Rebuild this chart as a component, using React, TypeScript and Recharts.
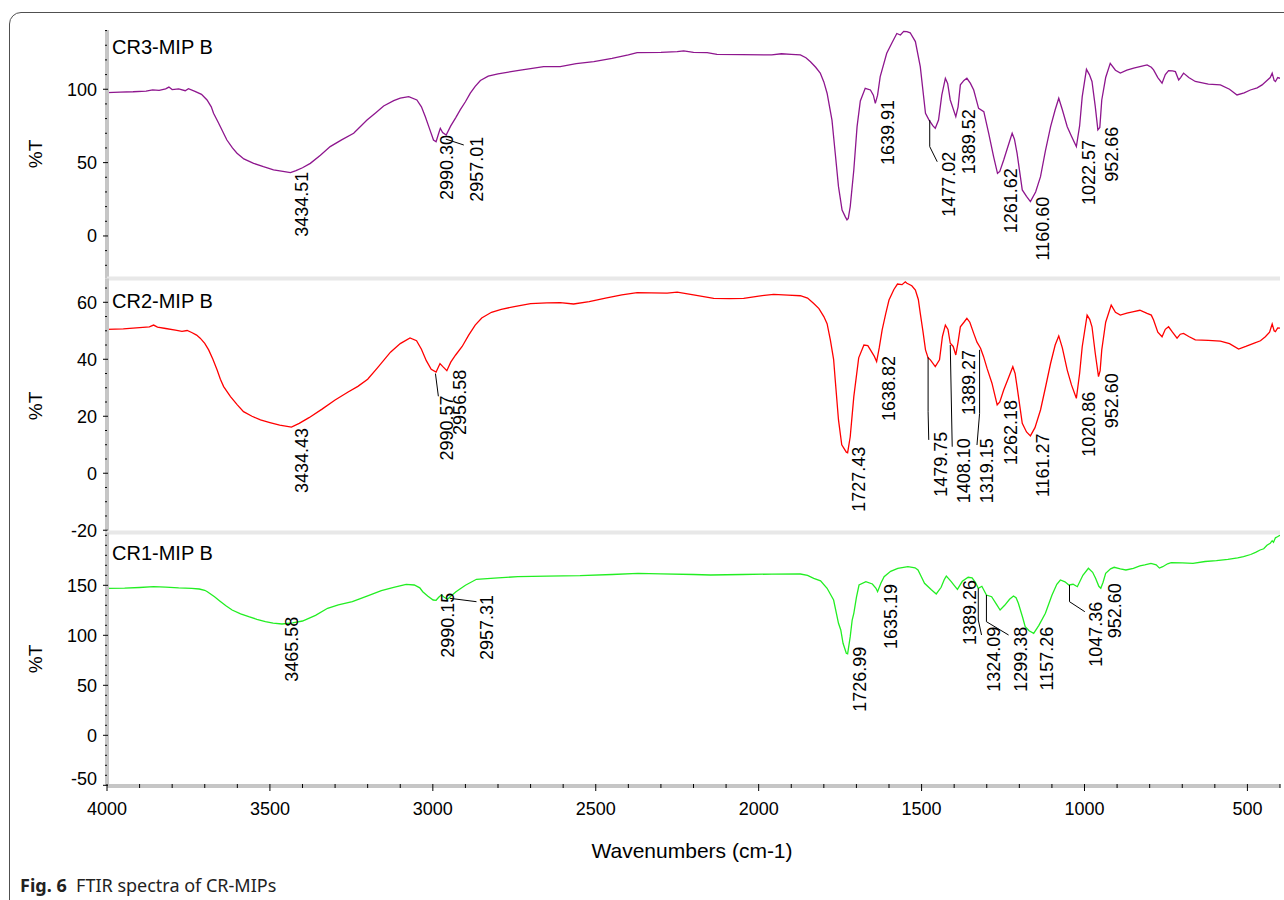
import React from 'react'
import { Line, LineChart, ReferenceDot, ReferenceLine, XAxis, YAxis } from 'recharts'

type Pt = [number, number]
type Peak = { text: string; x: number; y: number }

// [wavenumber, %T]
const cr3: Pt[] = [
  [4000, 97.7], [3960, 98.0], [3920, 98.3], [3880, 98.8], [3860, 99.6], [3840, 99.2], [3820, 100.3],
  [3810, 101.5], [3800, 99.8], [3780, 100.2], [3760, 99.0], [3750, 100.4], [3730, 98.6], [3710, 96.5],
  [3693, 92.7], [3680, 88], [3673, 83.6], [3660, 78], [3652, 74.5], [3640, 69], [3632, 65.4], [3615, 60],
  [3601, 56.4], [3580, 52.5], [3550, 49.5], [3520, 47.2], [3489, 45], [3460, 44], [3437, 43.2], [3420, 44.5],
  [3400, 46.5], [3376, 49.5], [3345, 55], [3315, 60.9], [3280, 65.5], [3243, 70], [3202, 79], [3175, 84],
  [3151, 88.6], [3120, 92.2], [3100, 93.9], [3074, 95], [3049, 92.7], [3035, 88], [3023, 81.3], [3010, 73],
  [2998, 65.4], [2990, 64.2], [2982, 70], [2977, 73.4], [2970, 70.5], [2959, 68.8], [2945, 75], [2930, 80.5],
  [2916, 85.9], [2900, 91.5], [2885, 97.3], [2870, 102], [2854, 106], [2830, 109], [2800, 110.5], [2760, 112],
  [2731, 113], [2700, 114], [2660, 115.4], [2609, 115.4], [2560, 117.5], [2506, 118.8], [2450, 121],
  [2400, 123.5], [2373, 125], [2300, 125.2], [2250, 125.6], [2230, 126.2], [2200, 125.2], [2158, 125],
  [2128, 123.8], [2050, 123.6], [1960, 123.4], [1930, 124.2], [1900, 123.8], [1872, 123.4], [1855, 121.5],
  [1841, 118.8], [1825, 115], [1811, 111], [1800, 105], [1790, 97.3], [1775, 79], [1765, 56.4], [1755, 33.6],
  [1744, 17.7], [1734, 13], [1729, 11], [1725, 12], [1719, 20], [1708, 45], [1698, 74.5], [1688, 92],
  [1673, 100.6], [1657, 99.5], [1648, 96], [1642, 90.4], [1635, 96], [1627, 108.6], [1607, 124.5],
  [1590, 132], [1576, 138], [1565, 137], [1555, 139.5], [1545, 139.3], [1535, 138.5], [1519, 132.5],
  [1504, 115.4], [1488, 83.6], [1477, 79], [1465, 75], [1458, 73.4], [1448, 79], [1438, 96], [1427, 107.5],
  [1420, 104], [1412, 92.7], [1395, 81.3], [1388, 88], [1381, 103], [1370, 106], [1361, 107.5], [1350, 104],
  [1340, 99.5], [1325, 87], [1309, 84.7], [1294, 70], [1279, 54.1], [1267, 42.7], [1260, 44], [1248, 51.8],
  [1235, 61], [1222, 70], [1215, 66], [1207, 56.4], [1191, 31.4], [1178, 27], [1166, 23.4], [1150, 30],
  [1135, 40.4], [1120, 58], [1104, 74.5], [1090, 86], [1079, 93.9], [1068, 86], [1053, 74.5], [1040, 68],
  [1025, 60.9], [1015, 75], [1007, 95], [994, 113.6], [985, 110], [977, 105.3], [967, 88.3], [959, 72.3],
  [953, 74], [947, 92.7], [935, 108], [921, 117.7], [905, 113], [890, 111], [870, 113], [849, 114.4],
  [830, 115.5], [808, 116.6], [795, 115], [788, 113.2], [775, 108], [762, 104.1], [752, 110], [742, 112.7],
  [730, 112.5], [721, 112], [711, 106.3], [705, 108], [696, 111], [680, 108], [660, 105.3], [620, 103.5],
  [583, 103], [555, 100], [532, 96.1], [510, 97.5], [491, 99.5], [470, 101], [455, 103], [440, 106],
  [430, 108], [424, 111], [418, 106], [414, 105.3], [407, 108], [400, 107.5],
]

const cr2: Pt[] = [
  [4000, 50.5], [3950, 50.7], [3900, 51.1], [3870, 51.4], [3857, 52.0], [3845, 51.3], [3820, 50.8],
  [3790, 50.2], [3770, 49.8], [3754, 50.1], [3740, 49.4], [3725, 48.5], [3714, 47.4], [3700, 45.6],
  [3688, 43.3], [3675, 40], [3662, 36.2], [3652, 33], [3642, 30.4], [3621, 26.9], [3600, 24], [3581, 21.6],
  [3555, 20], [3529, 18.7], [3500, 17.8], [3470, 16.9], [3434, 16.2], [3410, 17.5], [3380, 19.5],
  [3340, 22.5], [3300, 25.7], [3260, 28.5], [3230, 30.5], [3200, 33], [3170, 37], [3130, 42.5],
  [3100, 45.5], [3070, 47.5], [3050, 46.5], [3035, 43.5], [3020, 39.5], [3005, 36.5], [2990, 35.5],
  [2978, 38.5], [2970, 37.5], [2957, 36], [2945, 39], [2930, 41.5], [2910, 44.5], [2890, 48.5], [2870, 52],
  [2850, 54.5], [2820, 56.5], [2790, 57.5], [2750, 58.5], [2700, 59.5], [2650, 59.8], [2609, 59.9],
  [2568, 59.4], [2520, 60.2], [2470, 61.5], [2420, 62.6], [2373, 63.4], [2330, 63.3], [2281, 63.2],
  [2250, 63.6], [2200, 62.6], [2138, 61.4], [2090, 61.3], [2046, 61.4], [2000, 62.2], [1954, 62.8],
  [1910, 62.5], [1872, 62.3], [1850, 61.5], [1831, 59.6], [1815, 57.8], [1800, 55], [1790, 52.5],
  [1780, 46.8], [1770, 40], [1765, 32.7], [1755, 18.7], [1745, 10], [1731, 7.4], [1727, 7.2], [1719, 12.8],
  [1708, 26.9], [1693, 40.5], [1677, 45], [1665, 44.8], [1657, 43.3], [1645, 41], [1638, 39.2], [1630, 44],
  [1621, 50.3], [1610, 56], [1600, 60.8], [1585, 64.5], [1574, 66.4], [1560, 66.2], [1550, 67.2],
  [1545, 66.7], [1530, 65.8], [1519, 64.3], [1510, 61], [1504, 56.1], [1496, 50], [1488, 43.3],
  [1480, 40.5], [1473, 39.8], [1458, 37.4], [1445, 39.8], [1436, 48], [1427, 52], [1419, 50.5],
  [1412, 45.6], [1403, 44.5], [1395, 41.5], [1388, 46], [1381, 51.4], [1370, 53], [1361, 54.4], [1352, 53],
  [1340, 49.1], [1330, 46], [1319, 43.9], [1310, 41], [1299, 36.8], [1284, 31.6], [1268, 24], [1260, 25],
  [1248, 29.2], [1235, 33], [1220, 37.4], [1213, 35], [1207, 30.4], [1191, 17.5], [1178, 14.5],
  [1166, 13.1], [1152, 16], [1135, 22.2], [1120, 30], [1104, 38.6], [1090, 45], [1079, 48.2], [1068, 44],
  [1053, 36.2], [1040, 31], [1025, 26.3], [1015, 35], [1007, 44.4], [992, 55.5], [984, 54], [977, 51.4],
  [967, 42.1], [957, 33.9], [952, 36], [947, 43.3], [935, 53], [918, 59], [905, 56.5], [890, 55.5],
  [870, 56.2], [849, 56.7], [830, 57.2], [808, 56.1], [795, 55.5], [788, 53.8], [775, 49.5], [762, 47.9],
  [752, 50.5], [742, 51.4], [730, 49.5], [716, 47.4], [706, 48.8], [696, 49.1], [680, 48], [660, 46.8],
  [620, 46.6], [583, 46.4], [555, 45.5], [527, 43.6], [505, 44.5], [481, 45.6], [460, 46.5], [445, 47.9],
  [432, 49.5], [424, 52.4], [418, 50], [414, 49.7], [407, 51], [400, 50.9],
]

const cr1: Pt[] = [
  [4000, 147], [3946, 147.2], [3900, 147.8], [3857, 148.6], [3820, 148.2], [3780, 147.4], [3740, 147],
  [3717, 146.3], [3700, 145], [3692, 143.6], [3670, 138.5], [3654, 134.3], [3635, 129.5], [3616, 125.3],
  [3590, 121.5], [3565, 118.6], [3540, 116], [3514, 113.6], [3490, 112.2], [3463, 111.3], [3430, 112.5],
  [3400, 114.3], [3360, 120], [3323, 127], [3290, 130.5], [3247, 133.6], [3200, 139.5], [3158, 144.6],
  [3120, 148], [3082, 151], [3057, 150.3], [3040, 147.5], [3031, 143.6], [3015, 139], [2999, 135.3],
  [2990, 135], [2982, 138], [2974, 140.3], [2965, 138], [2955, 136], [2945, 139], [2929, 143.6],
  [2900, 150], [2866, 156], [2800, 157.5], [2739, 158.6], [2650, 159.2], [2548, 159.6], [2450, 160.8],
  [2370, 162], [2300, 161.5], [2200, 160.8], [2148, 160.3], [2050, 160.8], [1960, 161.2], [1872, 161.3],
  [1850, 160], [1831, 157], [1810, 154.5], [1790, 147], [1770, 135.3], [1755, 112], [1748, 105.3],
  [1741, 92], [1731, 82], [1727, 81.5], [1719, 98.6], [1713, 115.3], [1708, 122], [1700, 138],
  [1692, 150.3], [1671, 153.6], [1651, 151.3], [1640, 147], [1635, 143.6], [1625, 152], [1615, 158.6],
  [1595, 164], [1573, 167], [1542, 168.6], [1520, 167.5], [1511, 165.3], [1500, 158], [1491, 152],
  [1470, 145.5], [1455, 141.3], [1440, 148], [1430, 156], [1424, 159.3], [1415, 156], [1409, 153.6],
  [1400, 150], [1390, 146], [1375, 154], [1357, 158], [1345, 157.5], [1335, 153], [1326, 147], [1315, 149],
  [1301, 140.3], [1285, 138.6], [1270, 131], [1259, 125.3], [1245, 130], [1230, 136], [1218, 139.3],
  [1210, 137.5], [1203, 132], [1190, 118], [1182, 108.6], [1170, 104.5], [1156, 102], [1140, 110],
  [1120, 122], [1100, 140], [1085, 151], [1074, 155.3], [1060, 153.5], [1048, 150.3], [1035, 151],
  [1022, 148.6], [1005, 160], [988, 167], [975, 163], [966, 157], [956, 149], [950, 147], [943, 153],
  [935, 162], [920, 166.5], [909, 168], [890, 166.5], [873, 165.3], [850, 167], [830, 169.5], [815, 170.5],
  [796, 172], [780, 170.5], [770, 167.2], [760, 168.6], [745, 171.5], [734, 172.6], [700, 172.5],
  [667, 172], [630, 173.8], [595, 174.6], [560, 176], [530, 177.5], [512, 178.6], [490, 180.8], [475, 183],
  [461, 185.3], [450, 186.5], [440, 190], [430, 192], [424, 194.6], [420, 193], [414, 197.5], [408, 198.5],
  [400, 200],
]

const xTicks = [
  4000, 3900, 3800, 3700, 3600, 3500, 3400, 3300, 3200, 3100, 3000, 2900, 2800, 2700, 2600, 2500, 2400,
  2300, 2200, 2100, 2000, 1900, 1800, 1700, 1600, 1500, 1400, 1300, 1200, 1100, 1000, 900, 800, 700, 600,
  500, 400,
]
const xLabels = [4000, 3500, 3000, 2500, 2000, 1500, 1000, 500]

const cr3Ticks = [-20, -10, 0, 10, 20, 30, 40, 50, 60, 70, 80, 90, 100, 110, 120, 130, 140]
const cr3Labels = [0, 50, 100]
const cr2Ticks = [-20, -15, -10, -5, 0, 5, 10, 15, 20, 25, 30, 35, 40, 45, 50, 55, 60, 65]
const cr2Labels = [-20, 0, 20, 40, 60]
const cr1Ticks = [-50, -40, -30, -20, -10, 0, 10, 20, 30, 40, 50, 60, 70, 80, 90, 100, 110, 120, 130, 140, 150, 160, 170, 180, 190, 200]
const cr1Labels = [-50, 0, 50, 100, 150]

// label anchor = top end of the rotated text, in data units
const cr3Peaks: Peak[] = [
  { text: '3434.51', x: 3401, y: 43.8 },
  { text: '2990.30', x: 2956, y: 68.8 },
  { text: '2957.01', x: 2864, y: 67.7 },
  { text: '1639.91', x: 1604, y: 92.7 },
  { text: '1477.02', x: 1417, y: 57.5 },
  { text: '1389.52', x: 1355, y: 86.4 },
  { text: '1261.62', x: 1227, y: 46.2 },
  { text: '1160.60', x: 1128, y: 26.8 },
  { text: '1022.57', x: 987, y: 65.4 },
  { text: '952.66', x: 915, y: 74.5 },
]
const cr3Leaders: Pt[][] = [
  [[2960, 66], [2905, 62]],
  [[1475, 79.1], [1475, 60.9]],
  [[1475, 60.9], [1452, 50.6]],
]

const cr2Peaks: Peak[] = [
  { text: '3434.43', x: 3401, y: 15.9 },
  { text: '2990.57', x: 2956, y: 27.3 },
  { text: '2956.58', x: 2919, y: 36.3 },
  { text: '1727.43', x: 1693, y: 9.3 },
  { text: '1638.82', x: 1601, y: 41.2 },
  { text: '1479.75', x: 1442, y: 14.6 },
  { text: '1408.10', x: 1371, y: 12.3 },
  { text: '1389.27', x: 1355, y: 43.3 },
  { text: '1319.15', x: 1299, y: 12.3 },
  { text: '1262.18', x: 1227, y: 25.7 },
  { text: '1161.27', x: 1127, y: 14 },
  { text: '1020.86', x: 987, y: 28.6 },
  { text: '952.60', x: 915, y: 35.1 },
]
const cr2Leaders: Pt[][] = [
  [[2992, 35], [2983, 27]],
  [[1480, 40.7], [1480, 21.6]],
  [[1480, 21.6], [1478, 11.7]],
  [[1412, 45], [1406, 9.3]],
  [[1322, 43.3], [1322, 21]],
  [[1322, 21], [1330, 9.9]],
]

const cr1Peaks: Peak[] = [
  { text: '3465.58', x: 3432, y: 118.6 },
  { text: '2990.15', x: 2955, y: 142.6 },
  { text: '2957.31', x: 2834, y: 140.3 },
  { text: '1726.99', x: 1689, y: 88.6 },
  { text: '1635.19', x: 1596, y: 151.3 },
  { text: '1389.26', x: 1352, y: 155.3 },
  { text: '1324.09', x: 1280, y: 108.6 },
  { text: '1299.38', x: 1197, y: 108.6 },
  { text: '1157.26', x: 1115, y: 108.6 },
  { text: '1047.36', x: 966, y: 133.6 },
  { text: '952.60', x: 906, y: 152 },
]
const cr1Leaders: Pt[][] = [
  [[2948, 137], [2866, 133.6]],
  [[1326, 147], [1326, 115.3]],
  [[1326, 115.3], [1316, 100.3]],
  [[1301, 140.3], [1301, 113.6]],
  [[1301, 113.6], [1233, 100.3]],
  [[1046, 150.3], [1046, 133.6]],
  [[1046, 133.6], [999, 123.6]],
]

const FONT = '"Liberation Sans", Arial, sans-serif'
const AXIS_GRAY = '#c6c6c6'

const panels = [
  {
    title: 'CR3-MIP B', data: cr3, color: '#8e168e', peaks: cr3Peaks, leaders: cr3Leaders,
    ticks: cr3Ticks, labels: cr3Labels, domain: [-29, 140.4], top: 0, height: 281, mt: 30, mb: 2.5,
    separator: false, lift: null as number | null,
  },
  {
    title: 'CR2-MIP B', data: cr2, color: '#ff0000', peaks: cr2Peaks, leaders: cr2Leaders,
    ticks: cr2Ticks, labels: cr2Labels, domain: [-20.8, 68.35], top: 276, height: 268.5, mt: 2.5, mb: 12,
    separator: true, lift: null as number | null,
  },
  {
    title: 'CR1-MIP B', data: cr1, color: '#22ee22', peaks: cr1Peaks, leaders: cr1Leaders,
    ticks: cr1Ticks, labels: cr1Labels, domain: [-50.7, 202.8], top: 530, height: 320, mt: 2.5, mb: 0,
    separator: true, lift: -50 as number | null,
  },
]

function XTick(props: any) {
  const { x, y, payload } = props
  const major = xLabels.includes(payload.value)
  return (
    <g>
      <line x1={x} x2={x} y1={y - 2} y2={y + (major ? 5 : 2)} stroke="#000" strokeWidth={1} />
      {major && (
        <text x={x} y={y + 29} textAnchor="middle" fontSize={18} fontFamily={FONT} fill="#000">
          {payload.value}
        </text>
      )}
    </g>
  )
}

function makeYTick(labels: number[], lift: number | null) {
  return (props: any) => {
    const { x, y, payload } = props
    const v = payload.value
    const major = labels.includes(v)
    return (
      <g>
        <line x1={x - (major ? 4 : 2)} x2={x + (major ? 1 : 0)} y1={y} y2={y} stroke="#000" strokeWidth={1} />
        {major && (
          <text x={x - 10} y={y - (v === lift ? 7 : 0)} dy="0.35em" textAnchor="end" fontSize={18}
            fontFamily={FONT} fill="#000">
            {v}
          </text>
        )}
      </g>
    )
  }
}

function peakShape(text: string) {
  return (p: any) => (
    <text x={p.cx} y={p.cy} transform={`rotate(-90 ${p.cx} ${p.cy})`} textAnchor="end" dy="0.35em"
      fontSize={18} fontFamily={FONT} fill="#000">
      {text}
    </text>
  )
}

function Panel({ cfg, showX }: { cfg: (typeof panels)[number]; showX: boolean }) {
  const rows = cfg.data.map(([wn, t]) => ({ wn, t }))
  return (
    <div style={{ position: 'absolute', left: 0, top: cfg.top }}>
      <LineChart width={1284} height={cfg.height} data={rows}
        margin={{ top: cfg.mt, right: 4, bottom: cfg.mb, left: 0 }}>
        <XAxis dataKey="wn" type="number" domain={[400, 4000]} reversed allowDataOverflow ticks={xTicks}
          interval={0} hide={!showX} height={64} axisLine={{ stroke: AXIS_GRAY, strokeWidth: 4 }}
          tickLine={false} tickSize={0} tickMargin={0} tick={XTick} />
        <YAxis type="number" domain={cfg.domain} allowDataOverflow ticks={cfg.ticks} interval={0} width={107}
          axisLine={{ stroke: AXIS_GRAY, strokeWidth: 4 }} tickLine={false} tickSize={0} tickMargin={0}
          tick={makeYTick(cfg.labels, cfg.lift)} />
        {cfg.separator && <ReferenceLine y={cfg.domain[1]} stroke="#e8e8e8" strokeWidth={4} />}
        <Line type="linear" dataKey="t" stroke={cfg.color} strokeWidth={1.3} dot={false}
          isAnimationActive={false} />
        {cfg.leaders.map((seg, i) => (
          <ReferenceLine key={'l' + i} segment={[{ x: seg[0][0], y: seg[0][1] }, { x: seg[1][0], y: seg[1][1] }]}
            stroke="#000" strokeWidth={1} />
        ))}
        {cfg.peaks.map((pk) => (
          <ReferenceDot key={pk.text} x={pk.x} y={pk.y} r={1} fill="none" stroke="none"
            shape={peakShape(pk.text)} />
        ))}
      </LineChart>
    </div>
  )
}

export default function App() {
  const textBase: React.CSSProperties = { position: 'absolute', fontFamily: FONT, color: '#000', whiteSpace: 'nowrap', lineHeight: 1 }
  const plotCenters = [154, 405.5, 659]
  const titleCenters = [46.7, 300.7, 553.3]
  return (
    <div style={{ position: 'absolute', left: 0, top: 0, width: 1284, height: 900, overflow: 'hidden', background: '#fff' }}>
      <div style={{ position: 'absolute', left: 9, top: 12, width: 1400, height: 1000, border: '1.5px solid #505050', borderRadius: 12 }} />
      {panels.map((p, i) => (
        <Panel key={p.title} cfg={p} showX={i === panels.length - 1} />
      ))}
      {panels.map((p, i) => (
        <div key={'t' + i} style={{ ...textBase, left: 112, top: titleCenters[i], transform: 'translateY(-50%)', fontSize: 20 }}>
          {p.title}
        </div>
      ))}
      {plotCenters.map((c, i) => (
        <div key={'y' + i} style={{ ...textBase, left: 35, top: c, transform: 'translate(-50%, -50%) rotate(-90deg)', fontSize: 19 }}>
          %T
        </div>
      ))}
      <div style={{ ...textBase, left: 692, top: 850, transform: 'translate(-50%, -50%)', fontSize: 21 }}>
        Wavenumbers (cm-1)
      </div>
      <div style={{ ...textBase, left: 20, top: 885, transform: 'translateY(-50%)', fontSize: 18, fontFamily: '"Noto Sans", "Open Sans", sans-serif', color: '#222' }}>
        <b>Fig. 6</b>&nbsp;&nbsp;FTIR spectra of CR-MIPs
      </div>
    </div>
  )
}
